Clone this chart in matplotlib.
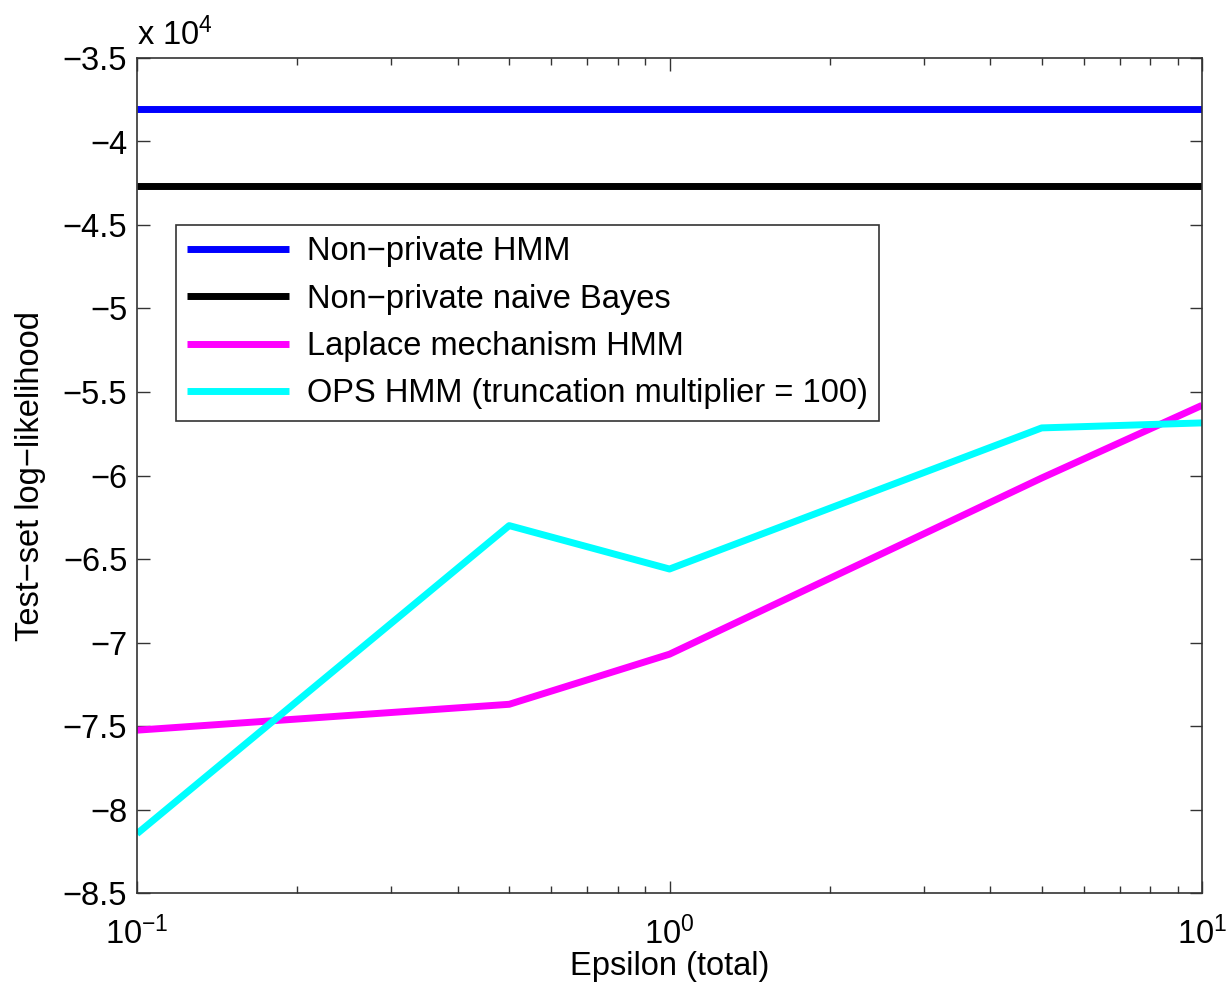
import matplotlib
matplotlib.use("Agg")
import matplotlib.pyplot as plt
from matplotlib.ticker import FuncFormatter, LogLocator, FixedLocator

plt.rcParams['font.family'] = ['Liberation Sans', 'DejaVu Sans']
plt.rcParams['mathtext.fontset'] = 'custom'
plt.rcParams['mathtext.rm'] = 'Liberation Sans'
plt.rcParams['mathtext.it'] = 'Liberation Sans'
plt.rcParams['axes.unicode_minus'] = True

epsilon = [0.1, 0.5, 1, 5, 10]
nonprivate_hmm = -38050
nonprivate_nb = -42650
laplace_hmm = [-75250, -73700, -70700, -60150, -55800]
ops_hmm = [-81450, -63000, -65600, -57150, -56850]

labels = ["Non\u2212private HMM", "Non\u2212private naive Bayes",
          "Laplace mechanism HMM", "OPS HMM (truncation multiplier = 100)"]
yticks = [-35000, -40000, -45000, -50000, -55000, -60000, -65000, -70000, -75000, -80000, -85000]

fig = plt.figure(figsize=(12.27, 9.88), dpi=100)
ax = fig.add_axes([137/1227, 1-893/988, (1202-137)/1227, (893-58)/988])

lw = 5
ax.plot([epsilon[0], epsilon[-1]], [nonprivate_hmm]*2, color='#0000ff', lw=lw, label=labels[0], solid_capstyle='butt')
ax.plot([epsilon[0], epsilon[-1]], [nonprivate_nb]*2, color='black', lw=lw, label=labels[1], solid_capstyle='butt')
ax.plot(epsilon, laplace_hmm, color='#ff00ff', lw=lw, label=labels[2], solid_capstyle='butt')
ax.plot(epsilon, ops_hmm, color='#00ffff', lw=lw, label=labels[3], solid_capstyle='butt')

ax.set_xscale('log')
ax.set_xlim(0.1, 10)
ax.set_ylim(-85000, -35000)
ax.yaxis.set_major_locator(FixedLocator(yticks))
ax.yaxis.set_major_formatter(FuncFormatter(lambda v, p: ("%g" % (v/1e4)).replace('-', '\u2212')))
ax.xaxis.set_major_locator(LogLocator(base=10, numticks=10))
ax.xaxis.set_minor_locator(LogLocator(base=10, subs=range(2, 10), numticks=10))

fs = 23.5
ax.tick_params(axis='both', which='both', direction='in', top=True, right=True, labelsize=fs, color='#333333')
ax.tick_params(which='major', length=9, width=1)
ax.tick_params(which='minor', length=5, width=1)
ax.tick_params(axis='x', pad=17)
ax.tick_params(axis='y', pad=7)
for s in ax.spines.values():
    s.set_color('#333333')
    s.set_linewidth(1.2)

ax.set_xlabel("Epsilon (total)", fontsize=fs, labelpad=0)
ax.set_ylabel("Test\u2212set log\u2212likelihood", fontsize=fs, labelpad=12)

fig.text(137/1227, 1-45/988, "x 10$^{4}$", fontsize=fs, ha='left', va='baseline')

leg = ax.legend(loc='upper left', bbox_to_anchor=((176-137)/1065, (893-225)/835),
                borderaxespad=0, fancybox=False, fontsize=fs, handlelength=3.1,
                handletextpad=0.55, labelspacing=0.5, borderpad=0.35, framealpha=1)
leg.get_frame().set_edgecolor('#333333')
leg.get_frame().set_linewidth(1.2)

fig.savefig("out.png", dpi=100)
